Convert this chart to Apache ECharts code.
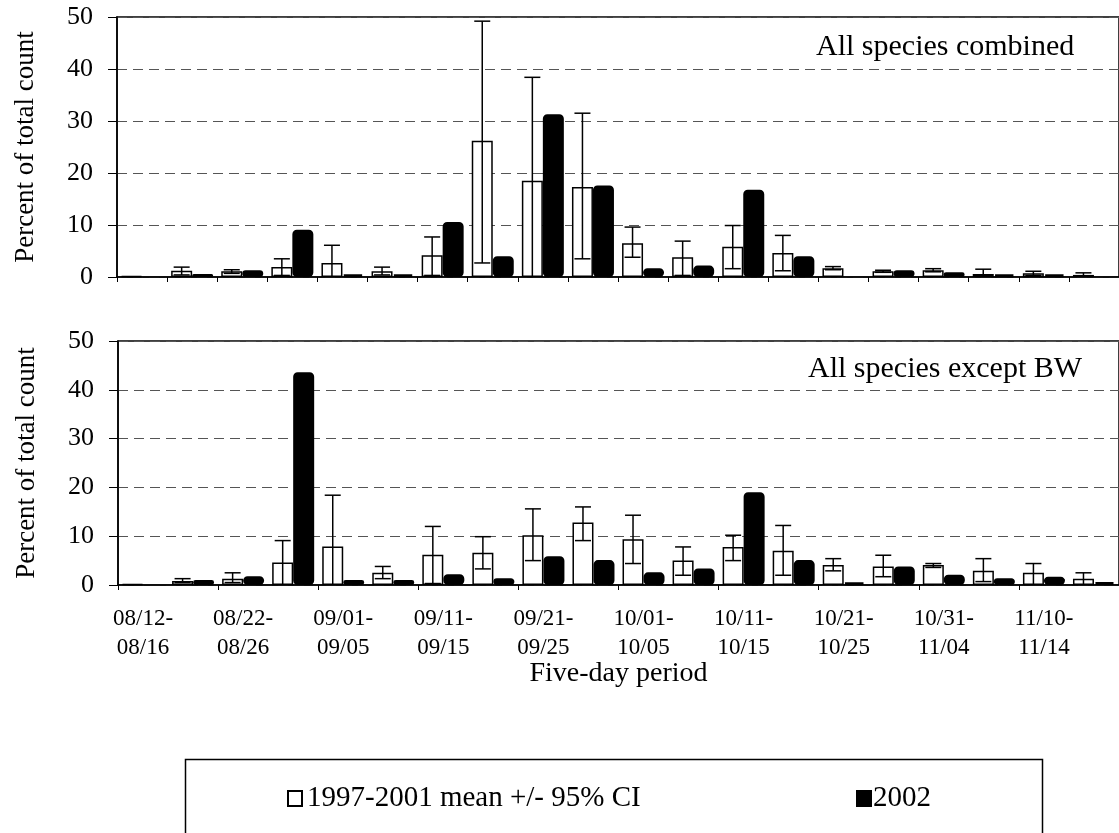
<!DOCTYPE html>
<html>
<head>
<meta charset="utf-8">
<script src="https://cdn.jsdelivr.net/npm/echarts@6/dist/echarts.min.js"></script>
<style>html,body{margin:0;padding:0;background:#fff}#c{width:1119px;height:833px}</style>
</head>
<body>
<div id="c"></div>
<script>
// ---- data ----
const categories = ['08/12-\n08/16','08/17-\n08/21','08/22-\n08/26','08/27-\n08/31','09/01-\n09/05','09/06-\n09/10','09/11-\n09/15','09/16-\n09/20','09/21-\n09/25','09/26-\n09/30','10/01-\n10/05','10/06-\n10/10','10/11-\n10/15','10/16-\n10/20','10/21-\n10/25','10/26-\n10/30','10/31-\n11/04','11/05-\n11/09','11/10-\n11/14','11/15-\n11/19'];
const yTicks = [0, 10, 20, 30, 40, 50];

// Panel A: All species combined
const meanA = [0.2, 1.2, 1.1, 1.9, 2.7, 1.1, 4.2, 26.2, 18.5, 17.3, 6.5, 3.8, 5.8, 4.6, 1.7, 1.1, 1.3, 0.6, 0.7, 0.4];
const hiA   = [null, 1.9, 1.4, 3.5, 6.1, 1.9, 7.7, 49.2, 38.4, 31.5, 9.6, 6.9, 9.9, 8.0, 2.0, 1.3, 1.6, 1.5, 1.1, 0.8];
const loA   = [null, 0.4, 0.7, 0.3, 0, 0.4, 0.3, 2.7, 0, 3.5, 3.8, 0.3, 1.6, 1.2, 1.4, 0.9, 1.0, 0.2, 0.3, 0.2];
const y2002A = [null, 0.6, 1.3, 9.1, 0.5, 0.5, 10.6, 4.0, 31.3, 17.6, 1.7, 2.2, 16.8, 4.0, null, 1.3, 0.9, 0.5, 0.5, null];

// Panel B: All species except BW
const meanB = [0.2, 0.8, 1.3, 4.6, 7.9, 2.5, 6.2, 6.6, 10.2, 12.8, 9.4, 5.0, 7.8, 7.0, 4.1, 3.8, 4.1, 2.9, 2.5, 1.3];
const hiB   = [null, 1.3, 2.5, 9.1, 18.4, 3.8, 12.0, 9.9, 15.6, 16.0, 14.3, 7.8, 10.2, 12.2, 5.4, 6.1, 4.4, 5.4, 4.4, 2.5];
const loB   = [null, 0.5, 0.5, 0, 0, 1.3, 0.3, 3.3, 5.0, 9.1, 4.4, 2.0, 5.0, 2.0, 2.9, 1.7, 3.6, 0.7, 0, 0];
const y2002B = [null, 1.0, 1.8, 43.6, 1.0, 1.0, 2.2, 1.4, 5.9, 5.1, 2.6, 3.4, 19.0, 5.1, 0.5, 3.8, 2.1, 1.4, 1.7, 0.6];

const seriesNames = ['1997-2001 mean +/- 95% CI', '2002'];
const panelLabels = ['All species combined', 'All species except BW'];
const yTitle = 'Percent of total count';
const xTitle = 'Five-day period';

// ---- chart ----
const FONT = '"Liberation Serif", "Times New Roman", serif';
const BAR_W = 21;

function errData(lo, hi) {
  const out = [];
  hi.forEach((h, i) => { if (h != null) out.push([i, lo[i], h]); });
  return out;
}
function errRender(params, api) {
  const i = api.value(0), lo = api.value(1), hi = api.value(2);
  const pt = api.coord([i, hi]);
  const pb = api.coord([i, lo]);
  const x = pt[0] - BAR_W / 2;
  const cap = 8;
  const st = { stroke: '#000', lineWidth: 1.5 };
  const ch = [
    { type: 'line', shape: { x1: x, y1: pt[1], x2: x, y2: pb[1] }, style: st },
    { type: 'line', shape: { x1: x - cap, y1: pt[1], x2: x + cap, y2: pt[1] }, style: st }
  ];
  if (lo > 0) ch.push({ type: 'line', shape: { x1: x - cap, y1: pb[1], x2: x + cap, y2: pb[1] }, style: st });
  return { type: 'group', children: ch };
}

const xAxisBase = (gi, showLabels) => ({
  type: 'category', gridIndex: gi, data: categories,
  axisLine: { lineStyle: { color: '#000', width: 1.5 } },
  axisTick: { show: true, length: 5, lineStyle: { color: '#000', width: 1 } },
  axisLabel: showLabels ? {
    show: true, interval: 1, fontFamily: FONT, fontSize: 23, lineHeight: 29, color: '#000', margin: 19
  } : { show: false },
  splitLine: { show: false }
});
const yAxisBase = (gi) => ({
  type: 'value', gridIndex: gi, min: 0, max: 50, interval: 10,
  name: yTitle, nameLocation: 'middle', nameGap: 78, nameRotate: 90,
  nameTextStyle: { fontFamily: FONT, fontSize: 27, color: '#000' },
  axisLine: { show: true, lineStyle: { color: '#000', width: 1.5 } },
  axisTick: { show: true, length: 9, lineStyle: { color: '#000', width: 1 } },
  axisLabel: { fontFamily: FONT, fontSize: 26, color: '#000', margin: 24 },
  splitLine: { show: true, lineStyle: { color: '#555', width: 1, type: [10, 6] } }
});

const openStyle = { color: '#fff', borderColor: '#000', borderWidth: 1.5 };
const blackStyle = { color: '#000', borderColor: '#000', borderWidth: 3, borderRadius: 3 };

const option = {
  animation: false,
  backgroundColor: '#fff',
  grid: [
    { left: 117, top: 17, height: 260, right: -3, show: true, borderColor: '#000', borderWidth: 1.5 },
    { left: 118, top: 341, height: 244, right: -3, show: true, borderColor: '#000', borderWidth: 1.5 }
  ],
  xAxis: [
    xAxisBase(0, false),
    Object.assign(xAxisBase(1, true), {
      name: xTitle, nameLocation: 'middle', nameGap: 75, nameMoveOverlap: false,
      nameTextStyle: { fontFamily: FONT, fontSize: 28, color: '#000' }
    })
  ],
  yAxis: [yAxisBase(0), yAxisBase(1)],
  legend: [
    { data: [seriesNames[0]], left: 282, top: 779, icon: 'rect', itemWidth: 14, itemHeight: 15,
      textStyle: { fontFamily: FONT, fontSize: 29, color: '#000' }, selectedMode: false },
    { data: [seriesNames[1]], left: 851, top: 779, icon: 'rect', itemWidth: 14, itemHeight: 15,
      textStyle: { fontFamily: FONT, fontSize: 29, color: '#000', padding: [0, 0, 0, -3] }, selectedMode: false }
  ],
  graphic: [
    { type: 'rect', left: 183, top: 757, shape: { width: 857, height: 100 },
      style: { fill: 'none', stroke: '#000', lineWidth: 1.5 } },
    { type: 'text', left: 816, top: 32, style: { text: panelLabels[0], font: '30px ' + FONT, fill: '#000' } },
    { type: 'text', left: 808, top: 354, style: { text: panelLabels[1], font: '30px ' + FONT, fill: '#000' } }
  ],
  series: [
    { name: seriesNames[0], type: 'bar', xAxisIndex: 0, yAxisIndex: 0, data: meanA,
      barWidth: BAR_W, barGap: '0%', itemStyle: openStyle, z: 2 },
    { name: seriesNames[1], type: 'bar', xAxisIndex: 0, yAxisIndex: 0, data: y2002A,
      barWidth: BAR_W, barGap: '0%', itemStyle: blackStyle, z: 2 },
    { name: 'errA', type: 'custom', xAxisIndex: 0, yAxisIndex: 0, data: errData(loA, hiA),
      encode: { x: 0, y: [1, 2] }, renderItem: errRender, z: 5 },
    { name: seriesNames[0], type: 'bar', xAxisIndex: 1, yAxisIndex: 1, data: meanB,
      barWidth: BAR_W, barGap: '0%', itemStyle: openStyle, z: 2 },
    { name: seriesNames[1], type: 'bar', xAxisIndex: 1, yAxisIndex: 1, data: y2002B,
      barWidth: BAR_W, barGap: '0%', itemStyle: blackStyle, z: 2 },
    { name: 'errB', type: 'custom', xAxisIndex: 1, yAxisIndex: 1, data: errData(loB, hiB),
      encode: { x: 0, y: [1, 2] }, renderItem: errRender, z: 5 }
  ]
};

const chart = echarts.init(document.getElementById('c'), null, { renderer: 'canvas' });
chart.setOption(option);
</script>
</body>
</html>
